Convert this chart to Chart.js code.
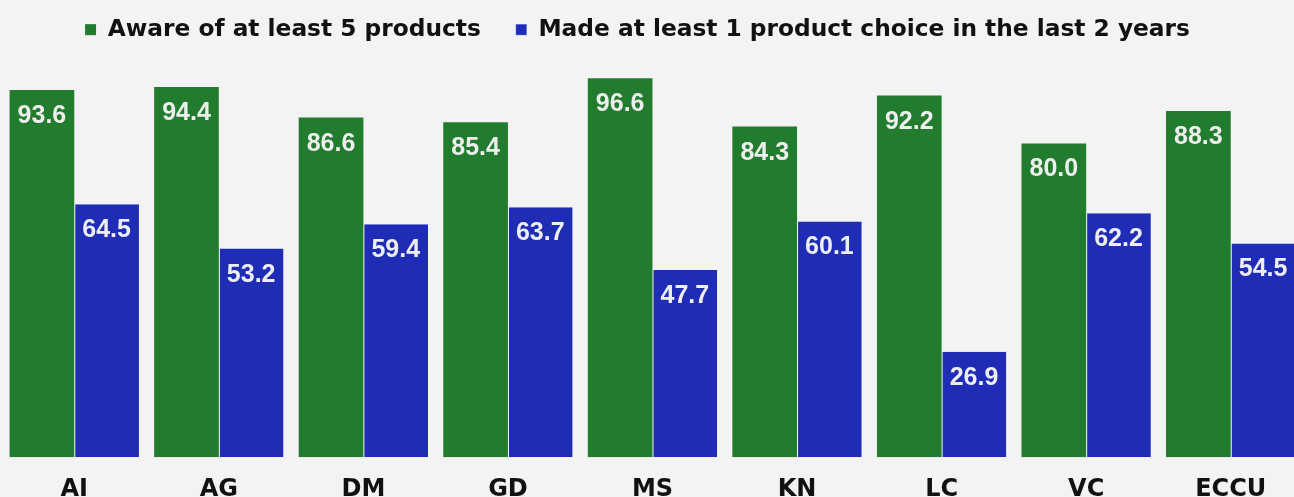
<!DOCTYPE html>
<html>
<head>
<meta charset="utf-8">
<script src="https://cdn.jsdelivr.net/npm/chart.js@4"></script>
<style>
  html, body { margin: 0; padding: 0; background: #f3f3f3; overflow: hidden; }
  #wrap { position: relative; width: 1304px; height: 514px; }
</style>
</head>
<body>
<div id="wrap"><canvas id="grafico"></canvas></div>
<script>
// Dados do gráfico
const categorias = ['AI', 'AG', 'DM', 'GD', 'MS', 'KN', 'LC', 'VC', 'ECCU'];
const conhecem5 = [93.6, 94.4, 86.6, 85.4, 96.6, 84.3, 92.2, 80.0, 88.3];
const escolheram1 = [64.5, 53.2, 59.4, 63.7, 47.7, 60.1, 26.9, 62.2, 54.5];
const nomesSeries = ['Aware of at least 5 products', 'Made at least 1 product choice in the last 2 years'];

const fonteTitulos = '"DejaVu Sans", sans-serif';

// Plugin para escrever o valor dentro do topo de cada barra
const rotulosBarras = {
  id: 'rotulosBarras',
  afterDatasetsDraw(chart) {
    const ctx = chart.ctx;
    ctx.save();
    ctx.font = 'bold 25px Arial, sans-serif';
    ctx.fillStyle = '#eeeeee';
    ctx.textAlign = 'center';
    ctx.textBaseline = 'alphabetic';
    chart.data.datasets.forEach((ds, i) => {
      chart.getDatasetMeta(i).data.forEach((bar, j) => {
        ctx.fillText(ds.data[j].toFixed(1), bar.x, bar.y + 33);
      });
    });
    ctx.restore();
  }
};

// Ajusta altura e posição da legenda
const ajusteLegenda = {
  id: 'ajusteLegenda',
  beforeInit(chart) {
    const fitOriginal = chart.legend.fit;
    chart.legend.fit = function () {
      fitOriginal.bind(chart.legend)();
      this.height = 82;
    };
  },
  afterLayout(chart) {
    chart.legend.left -= 15;
    chart.legend.right -= 15;
  }
};

const ctx = document.getElementById('grafico').getContext('2d');
new Chart(ctx, {
  type: 'bar',
  data: {
    labels: categorias,
    datasets: [
      {
        label: nomesSeries[0],
        data: conhecem5,
        backgroundColor: '#227c2e',
        categoryPercentage: 0.895,
        barPercentage: 1.0,
      },
      {
        label: nomesSeries[1],
        data: escolheram1,
        backgroundColor: '#1f2db6',
        borderColor: '#ffffff',
        borderWidth: { left: 1, top: 0, right: 0, bottom: 0 },
        borderSkipped: false,
        categoryPercentage: 0.895,
        barPercentage: 1.0,
      }
    ]
  },
  options: {
    responsive: true,
    maintainAspectRatio: false,
    animation: false,
    layout: { padding: { left: 2, right: 1, top: -17, bottom: 0 } },
    plugins: {
      legend: {
        position: 'top',
        labels: {
          color: '#111111',
          boxWidth: 11,
          boxHeight: 11,
          padding: 35,
          font: { family: fonteTitulos, weight: 'bold', size: 23.3 }
        }
      },
      tooltip: { enabled: false }
    },
    scales: {
      x: {
        grid: { display: false },
        border: { display: false },
        ticks: {
          color: '#111111',
          padding: 10,
          font: { family: fonteTitulos, weight: 'bold', size: 24 }
        }
      },
      y: {
        display: false,
        min: 0,
        max: 100
      }
    }
  },
  plugins: [rotulosBarras, ajusteLegenda]
});
</script>
</body>
</html>
